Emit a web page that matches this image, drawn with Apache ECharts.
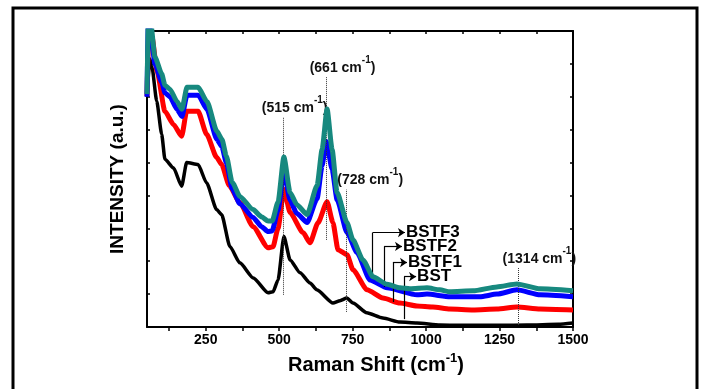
<!DOCTYPE html>
<html>
<head>
<meta charset="utf-8">
<script src="https://cdn.jsdelivr.net/npm/echarts@6/dist/echarts.min.js"></script>
<style>
html, body { margin: 0; padding: 0; background: #fff; }
#chart { width: 701px; height: 389px; }
</style>
</head>
<body>
<div id="chart"></div>
<script>
// Raman spectra: [shift (cm-1), intensity (a.u.)]
const bstData = [
    [50, 700], [60, 815], [67, 790], [83, 687], [100, 586], [111, 510], [140, 484], [168, 428],
    [185, 500], [224, 494], [253, 438], [287, 357], [304, 342], [332, 245], [366, 195], [412, 149],
    [462, 104], [479, 107], [496, 143], [516, 275], [537, 204], [571, 165], [605, 134], [628, 113],
    [683, 73], [707, 80], [730, 88], [751, 73], [798, 43], [853, 27], [911, 15], [969, 12],
    [1047, 6], [1115, 5], [1250, 5], [1343, 6], [1450, 8], [1500, 12]
];
const bstf1Data = [
    [50, 702], [55, 860], [67, 882], [84, 778], [111, 656], [140, 616], [168, 580], [185, 656],
    [224, 656], [253, 586], [287, 516], [304, 494], [330, 430], [366, 378], [411, 305], [462, 241],
    [479, 244], [496, 300], [516, 418], [537, 348], [581, 287], [605, 256], [632, 317], [663, 381],
    [683, 317], [700, 235], [731, 220], [751, 174], [799, 113], [853, 88], [911, 73], [969, 64],
    [1023, 61], [1081, 55], [1160, 52], [1241, 55], [1309, 61], [1388, 55], [1500, 52]
];
const bstf2Data = [
    [50, 700], [55, 950], [62, 900], [77, 800], [100, 745], [111, 712], [128, 700], [152, 662],
    [169, 640], [186, 705], [224, 705], [254, 662], [288, 570], [305, 548], [320, 500], [340, 420],
    [366, 375], [411, 333], [440, 305], [462, 290], [476, 292], [496, 355], [516, 473], [537, 385],
    [560, 345], [595, 318], [629, 390], [646, 490], [660, 565], [680, 480], [697, 387], [731, 287],
    [765, 226], [809, 143], [867, 119], [969, 98], [1003, 100], [1081, 92], [1183, 92], [1241, 100],
    [1309, 113], [1388, 98], [1500, 92]
];
const bstf3Data = [
    [50, 708], [55, 960], [62, 930], [77, 821], [100, 770], [111, 735], [128, 723], [152, 686],
    [169, 662], [186, 729], [224, 729], [254, 686], [288, 595], [305, 571], [320, 520], [340, 440],
    [366, 397], [411, 357], [440, 335], [462, 322], [476, 322], [496, 380], [516, 517], [537, 409],
    [560, 372], [595, 342], [629, 430], [646, 540], [663, 663], [680, 540], [697, 409], [731, 317],
    [751, 265], [785, 204], [819, 153], [867, 130], [911, 119], [945, 116], [1003, 119], [1047, 113],
    [1081, 107], [1160, 110], [1241, 122], [1309, 131], [1388, 116], [1500, 110]
];

// axis ticks
const xTicks = [125, 250, 375, 500, 625, 750, 875, 1000, 1125, 1250, 1375, 1500];
const xLabels = [250, 500, 750, 1000, 1250, 1500];

// peak markers (dotted lines)
const peakShifts = [515, 661, 728, 1314];
const peakLineTop = [638, 760, 418, 180];
const peakLineBottom = [98, 265, 46, 6];
const peakLabelShift = [22, 32, 48, 42];

// sample name callouts, order: BST, BSTF1, BSTF2, BSTF3
const sampleNames = ['BST', 'BSTF1', 'BSTF2', 'BSTF3'];
const arrowX = [925, 887, 857, 818];
const arrowFoot = [24, 76, 122, 153];
const arrowTop = [153, 196, 245, 287];
const arrowEnd = [966, 935, 918, 928];

const FONT = 'Liberation Sans, Arial, sans-serif';

function calloutLines(i) {
    return {
        silent: true,
        symbol: ['none', 'none'],
        lineStyle: { color: '#000', width: 1.2, type: 'solid' },
        label: { show: false },
        emphasis: { disabled: true },
        data: [
            [{ coord: [arrowX[i], arrowFoot[i]] }, { coord: [arrowX[i], arrowTop[i]] }],
            [
                { coord: [arrowX[i], arrowTop[i]], symbol: 'none' },
                {
                    coord: [arrowEnd[i], arrowTop[i]], symbol: 'arrow', symbolSize: 7,
                    label: {
                        show: true, position: 'end', distance: 1, formatter: sampleNames[i],
                        color: '#000', fontFamily: FONT, fontWeight: 'bold', fontSize: 17
                    }
                }
            ]
        ]
    };
}

const peakLines = {
    silent: true,
    symbol: ['none', 'none'],
    lineStyle: { color: '#333', width: 1, type: 'dotted' },
    emphasis: { disabled: true },
    label: {
        show: true, position: 'end', distance: 2,
        formatter: p => '{n|(' + p.name + ' cm}{s|-1}{n|)}',
        rich: {
            n: { fontFamily: FONT, fontWeight: 'bold', fontSize: 14, color: '#111', lineHeight: 20, verticalAlign: 'bottom' },
            s: { fontFamily: FONT, fontWeight: 'bold', fontSize: 10, color: '#111', lineHeight: 12, verticalAlign: 'top' }
        }
    },
    data: peakShifts.map((x, i) => [
        { name: String(x), coord: [x, peakLineBottom[i]], label: { padding: [0, 0, 0, peakLabelShift[i]] } },
        { coord: [x, peakLineTop[i]], label: { padding: [0, 0, 0, peakLabelShift[i]] } }
    ])
};

const chart = echarts.init(document.getElementById('chart'));

const option = {
    animation: false,
    backgroundColor: '#fff',
    graphic: [{
        type: 'rect',
        shape: { x: 13, y: 8, width: 684, height: 400 },
        style: { fill: 'none', stroke: '#000', lineWidth: 3 },
        silent: true
    }],
    grid: { left: 147, right: 128, top: 31, bottom: 62 },
    xAxis: [{
        type: 'value',
        min: 50, max: 1500,
        position: 'bottom',
        name: '{t|Raman Shift (cm}{s|-1}{t|)}',
        nameLocation: 'middle',
        nameGap: 5,
        nameTextStyle: {
            padding: [0, 0, 0, 32],
            rich: {
                t: { fontFamily: FONT, fontWeight: 'bold', fontSize: 20, color: '#000', lineHeight: 24, verticalAlign: 'bottom' },
                s: { fontFamily: FONT, fontWeight: 'bold', fontSize: 13, color: '#000', lineHeight: 14, verticalAlign: 'top' }
            }
        },
        axisLine: { show: true, onZero: false, lineStyle: { color: '#000', width: 2 } },
        axisTick: { show: true, inside: false, length: 4, customValues: xTicks, lineStyle: { color: '#000', width: 1.5 } },
        axisLabel: {
            customValues: xLabels, margin: 6, formatter: v => String(v),
            color: '#000', fontFamily: FONT, fontWeight: 'bold', fontSize: 14
        },
        splitLine: { show: false }
    }, {
        type: 'value',
        min: 50, max: 1500,
        position: 'top',
        axisLine: { show: true, onZero: false, lineStyle: { color: '#000', width: 2 } },
        axisTick: { show: true, inside: true, length: 3, customValues: xTicks, lineStyle: { color: '#000', width: 1.5 } },
        axisLabel: { show: false },
        splitLine: { show: false }
    }],
    yAxis: [{
        type: 'value',
        min: 0, max: 900, interval: 100,
        position: 'left',
        name: 'INTENSITY (a.u.)',
        nameLocation: 'middle',
        nameRotate: 90,
        nameGap: 20,
        nameTextStyle: { fontFamily: FONT, fontWeight: 'bold', fontSize: 19, color: '#000' },
        axisLine: { show: true, onZero: false, lineStyle: { color: '#000', width: 2 } },
        axisTick: { show: true, inside: true, length: 3, lineStyle: { color: '#000', width: 1.5 } },
        axisLabel: { show: false },
        splitLine: { show: false }
    }, {
        type: 'value',
        min: 0, max: 900, interval: 100,
        position: 'right',
        axisLine: { show: true, onZero: false, lineStyle: { color: '#000', width: 2 } },
        axisTick: { show: true, inside: true, length: 3, lineStyle: { color: '#000', width: 1.5 } },
        axisLabel: { show: false },
        splitLine: { show: false }
    }],
    series: [
        {
            name: 'BST', type: 'line', data: bstData, showSymbol: false, symbol: 'none',
            smooth: 0.2, smoothMonotone: 'x',
            lineStyle: { color: '#000', width: 3.5 }, z: 2,
            markLine: calloutLines(0)
        },
        {
            name: 'BSTF1', type: 'line', data: bstf1Data, showSymbol: false, symbol: 'none',
            smooth: 0.2, smoothMonotone: 'x',
            lineStyle: { color: '#ff0000', width: 5 }, z: 3,
            markLine: calloutLines(1)
        },
        {
            name: 'BSTF2', type: 'line', data: bstf2Data, showSymbol: false, symbol: 'none',
            smooth: 0.2, smoothMonotone: 'x',
            lineStyle: { color: '#0000ff', width: 5 }, z: 4,
            markLine: calloutLines(2)
        },
        {
            name: 'BSTF3', type: 'line', data: bstf3Data, showSymbol: false, symbol: 'none',
            smooth: 0.2, smoothMonotone: 'x',
            lineStyle: { color: '#17897f', width: 5 }, z: 5,
            markLine: calloutLines(3)
        },
        {
            name: 'peaks', type: 'line', data: [], z: 6,
            markLine: peakLines
        }
    ]
};

chart.setOption(option);
</script>
</body>
</html>
